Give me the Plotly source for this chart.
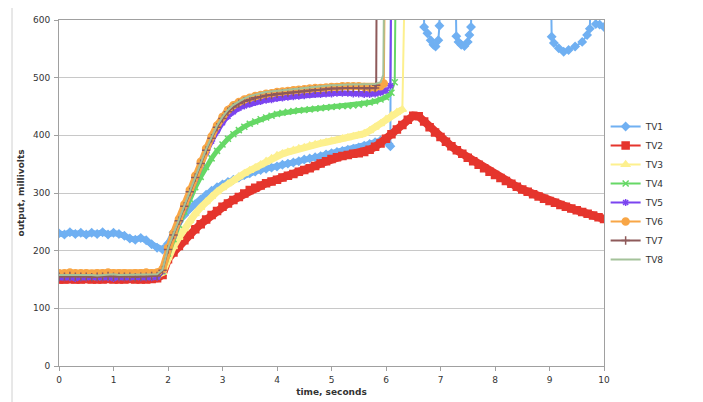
import plotly.graph_objects as go

# sampling grid (seconds)
T = [round(0.1 * i, 1) for i in range(101)]

TV1 = [230, 228, 232, 229, 231, 228, 231, 229, 232, 228, 231, 229, 226, 221, 219, 222, 218, 211, 205, 202,
       212, 232, 250, 262, 273, 281, 289, 297, 304, 310, 315, 319, 323, 327, 331, 334, 337, 340, 342, 344,
       346, 349, 351, 353, 355, 358, 360, 362, 364, 367, 369, 371, 373, 375, 377, 379, 382, 385, 388, 391, 393]
TV1_tail_t = [6.05, 6.08, 6.09, 6.69, 6.70, 6.76, 6.82, 6.87, 6.91, 6.96, 6.98, 6.99,
              7.27, 7.29, 7.33, 7.38, 7.44, 7.50, 7.53, 7.56, 7.58,
              9.02, 9.04, 9.08, 9.17, 9.26, 9.35, 9.47, 9.60, 9.69, 9.74, 9.77,
              9.83, 9.85, 9.92, 10.0]
TV1_tail_v = [385, 381, 700, 700, 588, 577, 565, 557, 554, 565, 590, 700,
              700, 572, 562, 557, 555, 562, 574, 588, 700,
              700, 571, 560, 551, 545, 548, 554, 562, 574, 585, 700,
              700, 593, 592, 588]

TV2 = [150, 150, 151, 150, 150, 151, 150, 150, 150, 151, 150, 150, 150, 151, 150, 150, 150, 151, 152,
       158, 185, 197, 208, 218, 228, 237, 246, 254, 262, 269, 276, 282, 288, 293, 299, 305, 309, 313, 317, 320,
       323, 327, 330, 333, 337, 340, 343, 347, 351, 355, 359, 362, 364, 366, 368, 369, 371, 375, 380, 386,
       394, 402, 410, 418, 427, 434, 433, 424, 414, 405, 397, 389, 381, 374, 368, 361, 355, 349, 343, 337,
       331, 326, 321, 316, 311, 306, 302, 298, 294, 290, 286, 283, 279, 276, 273, 270, 267, 264, 261, 258, 255]

TV3 = [157, 157, 158, 157, 157, 156, 157, 157, 158, 157, 157, 157, 156, 157, 157, 158, 157, 157, 158,
       162, 188, 207, 223, 238, 252, 264, 275, 285, 294, 302, 309, 316, 322, 328, 334, 339, 344, 349, 355, 360,
       365, 368, 371, 374, 377, 379, 382, 384, 386, 388, 390, 392, 394, 396, 398, 400, 403, 408, 414, 420,
       428, 435, 440, 445]
TV3_end_t = [6.35]
TV3_end_v = [700]

TV4 = [155, 155, 155, 156, 155, 155, 155, 154, 155, 155, 156, 155, 155, 155, 155, 156, 155, 155, 156,
       164, 195, 220, 245, 268, 290, 310, 328, 345, 360, 373, 384, 394, 402, 409, 415, 420, 424, 428, 431, 434,
       437, 439, 441, 442, 443, 444, 445, 446, 447, 448, 449, 450, 451, 451, 452, 453, 455, 457, 459, 462,
       466, 474]
TV4_end_t = [6.16, 6.18]
TV4_end_v = [492, 700]

TV5 = [153, 153, 153, 152, 153, 153, 154, 153, 153, 153, 152, 153, 153, 153, 154, 153, 153, 153, 154,
       165, 200, 225, 250, 275, 300, 324, 348, 370, 390, 408, 422, 433, 441, 447, 451, 454, 457, 459, 461, 462,
       464, 465, 466, 467, 468, 469, 470, 471, 471, 472, 472, 473, 473, 473, 472, 472, 471, 471, 472, 474, 478]
TV5_end_t = [6.08, 6.10]
TV5_end_v = [486, 700]

TV6 = [161, 161, 162, 161, 161, 161, 160, 161, 161, 162, 161, 161, 161, 160, 161, 161, 162, 161, 162,
       168, 205, 230, 255, 280, 305, 330, 354, 377, 398, 417, 432, 444, 452, 458, 462, 465, 468, 470, 472, 473,
       475, 476, 477, 478, 479, 480, 481, 482, 482, 483, 484, 484, 485, 485, 485, 485, 484, 483, 483, 485]
TV6_end_t = [5.96, 5.98]
TV6_end_v = [490, 700]

TV7 = [155, 155, 156, 155, 155, 155, 154, 155, 155, 156, 155, 155, 155, 155, 154, 155, 155, 156, 156,
       166, 202, 227, 252, 277, 302, 327, 351, 374, 395, 414, 429, 441, 449, 455, 459, 462, 465, 467, 469, 470,
       472, 473, 474, 475, 476, 477, 478, 479, 479, 480, 481, 481, 482, 482, 482, 482, 481, 481, 482]
TV7_end_t = [5.82, 5.83]
TV7_end_v = [487, 700]

TV8 = [158, 158, 158, 159, 158, 158, 158, 157, 158, 158, 159, 158, 158, 158, 158, 159, 158, 158, 159,
       167, 204, 229, 254, 279, 304, 329, 353, 376, 397, 417, 432, 444, 453, 459, 464, 468, 471, 473, 475, 476,
       478, 479, 480, 481, 482, 483, 484, 485, 485, 486, 487, 487, 488, 488, 488, 488, 488, 488, 489, 492]
TV8_end_t = [5.95, 5.97]
TV8_end_v = [505, 700]

X_TICKS = list(range(0, 11))
Y_TICKS = [0, 100, 200, 300, 400, 500, 600]

# name, main values, extra x, extra y, colour, symbol, marker size, band width
series = [
    ("TV1", TV1, TV1_tail_t, TV1_tail_v, "#70B0F2", "diamond", 6, 6),
    ("TV2", TV2, [], [], "#E5352D", "square", 7, 8),
    ("TV3", TV3, TV3_end_t, TV3_end_v, "#FDF08E", "triangle-up", 7, 7),
    ("TV4", TV4, TV4_end_t, TV4_end_v, "#66D866", "x-thin-open", 6, 5),
    ("TV5", TV5, TV5_end_t, TV5_end_v, "#7B44F0", "asterisk-open", 6, 5),
    ("TV6", TV6, TV6_end_t, TV6_end_v, "#F8A646", "circle", 7, 7),
    ("TV7", TV7, TV7_end_t, TV7_end_v, "#8E5A5A", "cross-thin-open", 6, 0),
    ("TV8", TV8, TV8_end_t, TV8_end_v, "#A4C29A", None, 0, 0),
]

fig = go.Figure()
for name, vals, ex_t, ex_v, color, sym, size, band in series:
    xs = T[:len(vals)] + ex_t
    ys = vals + ex_v
    if band:
        fig.add_trace(go.Scatter(x=T[:len(vals)], y=vals, mode="lines", legendgroup=name,
                                 showlegend=False, hoverinfo="skip",
                                 line=dict(color=color, width=band)))
    if sym is None:
        fig.add_trace(go.Scatter(x=xs, y=ys, name=name, mode="lines", legendgroup=name,
                                 line=dict(color=color, width=2)))
    else:
        fig.add_trace(go.Scatter(
            x=xs, y=ys, name=name, mode="lines+markers", legendgroup=name,
            line=dict(color=color, width=2),
            marker=dict(symbol=sym, size=size, color=color,
                        line=dict(color=color, width=1.5))))

FONT = "DejaVu Sans, Verdana, sans-serif"

fig.update_layout(
    width=703, height=402,
    margin=dict(l=51, r=107, t=12, b=44),
    paper_bgcolor="white", plot_bgcolor="white",
    font=dict(family=FONT, size=9, color="#333333"),
    showlegend=True,
    legend=dict(x=1.003, xanchor="left", y=0.5, yanchor="middle",
                font=dict(family=FONT, size=9, color="#333333"),
                bgcolor="rgba(0,0,0,0)", tracegroupgap=0),
    xaxis=dict(range=[0, 10], tickvals=X_TICKS, showgrid=False, zeroline=False, automargin=False,
               showline=True, linecolor="#A0A0A0", linewidth=1, mirror=True,
               ticks="outside", ticklen=4, tickcolor="#A0A0A0", ticklabelstandoff=1,
               title=dict(text="<b>time, seconds</b>", standoff=4,
                          font=dict(family=FONT, size=9, color="#333333"))),
    yaxis=dict(range=[0, 600], tickvals=Y_TICKS, showgrid=True, gridcolor="#C8C8C8", gridwidth=1,
               zeroline=False, showline=True, linecolor="#A0A0A0", linewidth=1, mirror=True,
               automargin=False,
               ticks="outside", ticklen=4, tickcolor="#A0A0A0", ticklabelstandoff=2,
               title=dict(text="<b>output, millivolts</b>", standoff=6,
                          font=dict(family=FONT, size=9, color="#333333"))),
    shapes=[dict(type="rect", xref="paper", yref="paper",
                 x0=-0.0862, x1=1.184, y0=-0.14, y1=1.0376,
                 line=dict(color="#D0D0D0", width=1), layer="below")],
)

fig.write_html("out.html")
